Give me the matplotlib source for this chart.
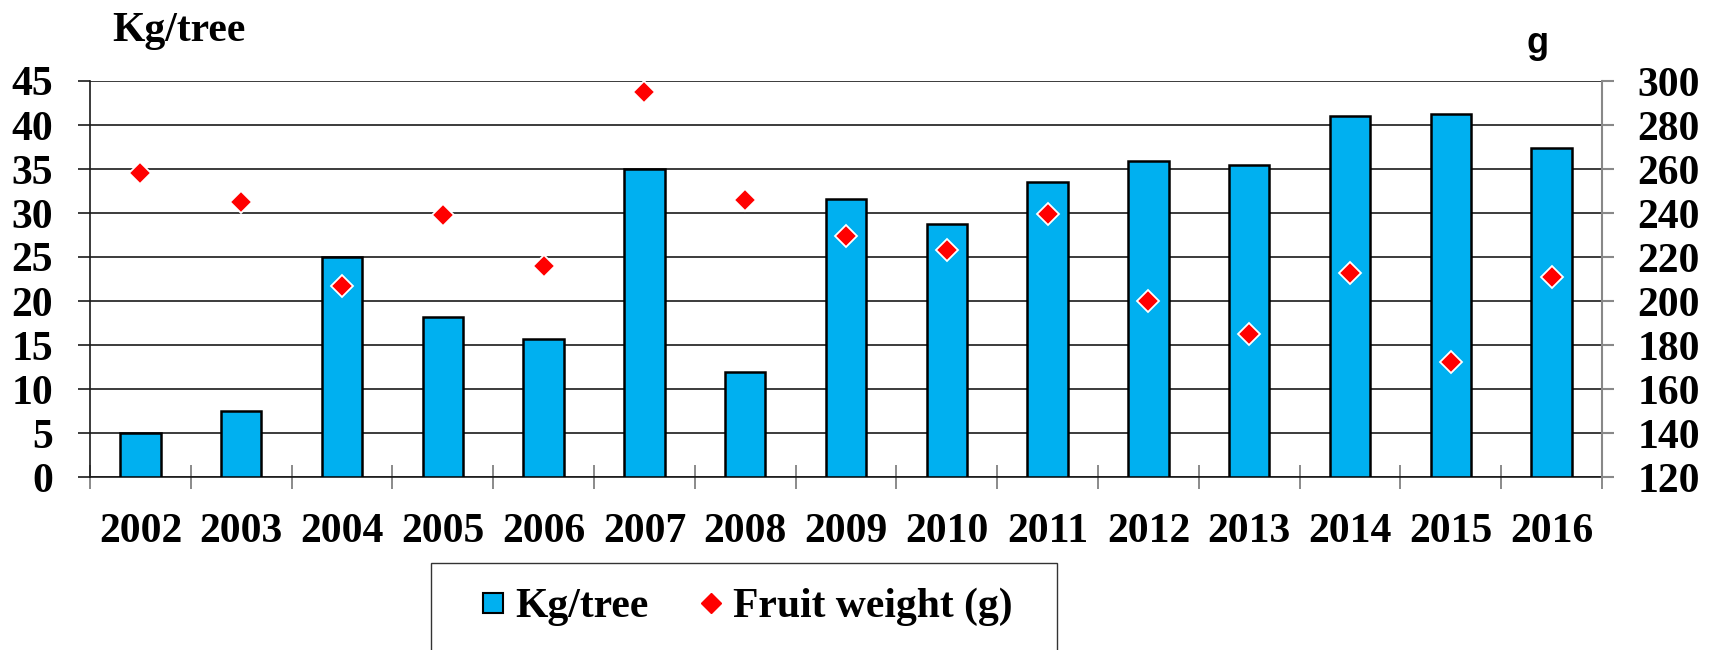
import matplotlib
matplotlib.use("Agg")
import matplotlib.pyplot as plt
from matplotlib.lines import Line2D
from matplotlib.patches import Rectangle
import numpy as np

years = ["2002", "2003", "2004", "2005", "2006", "2007", "2008", "2009",
         "2010", "2011", "2012", "2013", "2014", "2015", "2016"]
kg_tree = [5.0, 7.5, 25.0, 18.2, 15.7, 35.0, 11.9, 31.6, 28.8, 33.5,
           35.9, 35.4, 41.0, 41.2, 37.4]
fruit_weight = [258, 245, 207, 239, 216, 295, 246, 229.6, 223, 239.7,
                200.2, 185, 212.6, 172.4, 210.8]
left_ticks = [0, 5, 10, 15, 20, 25, 30, 35, 40, 45]
right_ticks = [120, 140, 160, 180, 200, 220, 240, 260, 280, 300]

BAR = "#00B0F0"
SERIF = "Liberation Serif"
FS = 30

W, H = 1715, 650
fig = plt.figure(figsize=(W / 100, H / 100), dpi=100)
ax = fig.add_axes([90 / W, 1 - 477 / H, (1602 - 90) / W, (477 - 81) / H])

x = np.arange(len(years))
bars = ax.bar(x, kg_tree, width=0.4, color=BAR, edgecolor="black",
              linewidth=1.8, zorder=3, label="Kg/tree")
ax.set_xlim(-0.5, len(years) - 0.5)
ax.set_ylim(0, 45)
ax.set_yticks(left_ticks)
ax.set_yticklabels([str(v) for v in left_ticks], fontfamily=SERIF,
                   fontweight="bold", fontsize=FS)
ax.yaxis.grid(True, color="#1a1a1a", linewidth=1.2, zorder=1)
ax.set_axisbelow(True)
ax.tick_params(axis="y", length=8.6, width=1.2, color="#1a1a1a", pad=18)

ax.set_xticks(x)
ax.set_xticklabels(years, fontfamily=SERIF, fontweight="bold", fontsize=FS)
ax.tick_params(axis="x", which="major", length=0, pad=26)
ax.set_xticks(np.arange(-0.5, len(years), 1.0), minor=True)
ax.tick_params(axis="x", which="minor", direction="inout", length=17.3,
               width=1.2, color="#777777")

for s in ["top", "right"]:
    ax.spines[s].set_visible(False)
ax.spines["left"].set_color("#1a1a1a")
ax.spines["left"].set_linewidth(1.2)
ax.spines["bottom"].set_color("#1a1a1a")
ax.spines["bottom"].set_linewidth(1.2)

ax2 = ax.twinx()
ax2.plot(x, fruit_weight, linestyle="none", marker="D", markersize=11.5,
         markerfacecolor="red", markeredgecolor="white", markeredgewidth=1.3,
         zorder=5, label="Fruit weight (g)")
ax2.set_ylim(120, 300)
ax2.set_yticks(right_ticks)
ax2.set_yticklabels([str(v) for v in right_ticks], fontfamily=SERIF,
                    fontweight="bold", fontsize=FS)
ax2.tick_params(axis="y", length=8.6, width=1.5, color="#888888", pad=17)
for s in ["top", "left", "bottom"]:
    ax2.spines[s].set_visible(False)
ax2.spines["right"].set_color("#888888")
ax2.spines["right"].set_linewidth(1.5)

fig.text(112 / W, 1 - 41 / H, "Kg/tree", fontfamily=SERIF, fontweight="bold",
         fontsize=FS, ha="left", va="baseline")
fig.text(1538 / W, 1 - 53 / H, "g", fontfamily="Liberation Sans",
         fontweight="bold", fontsize=26, ha="center", va="baseline")

handles = [
    Line2D([], [], linestyle="none", marker="s", markersize=15,
           markerfacecolor=BAR, markeredgecolor="black", markeredgewidth=1.5),
    Line2D([], [], linestyle="none", marker="D", markersize=10,
           markerfacecolor="red", markeredgecolor="red"),
]
fig.legend(handles, ["Kg/tree", "Fruit weight (g)"], ncol=2,
           loc="center left", bbox_to_anchor=(482.6 / W, 1 - 607 / H),
           frameon=False, borderpad=0, borderaxespad=0, handlelength=0.5,
           handletextpad=0.28, columnspacing=1.26,
           prop={"family": SERIF, "weight": "bold", "size": FS})
fig.add_artist(Rectangle((431 / W, -0.05), (1057 - 431) / W,
                         (650 - 563) / H + 0.05, transform=fig.transFigure,
                         fill=False, edgecolor="#333333", linewidth=1.0))

fig.savefig("out.png", dpi=100)
